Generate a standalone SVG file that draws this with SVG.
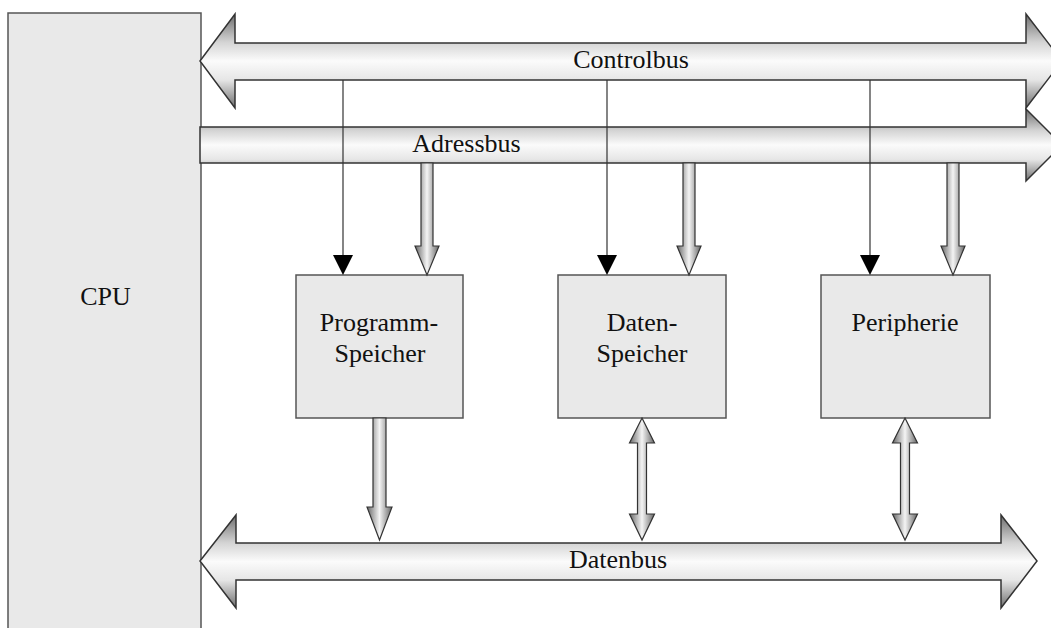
<svg xmlns="http://www.w3.org/2000/svg" width="1051" height="628" viewBox="0 0 1051 628">
  <style>
    .box { fill: #e9e9e9; stroke: #555; stroke-width: 1.5; }
    .bus { fill: url(#busGrad); stroke: #333; stroke-width: 1.5; stroke-linejoin: miter; }
    .blk { fill: url(#blkGrad); stroke: #333; stroke-width: 1.2; }
    .ctl { stroke: #333; stroke-width: 1.2; fill: none; }
    .tri { fill: #000; }
    .lbl { font-family: "Liberation Serif", "Times New Roman", serif; font-size: 26px; fill: #111; text-anchor: middle; }
  </style>
  <defs>
    <!-- bus arrows: shaded darker towards the head tips, bright along the centre -->
    <linearGradient id="busGrad" x1="0" y1="0" x2="0" y2="1">
      <stop offset="0" stop-color="#6e6e6e"/>
      <stop offset="0.3" stop-color="#d4d4d4"/>
      <stop offset="0.5" stop-color="#fbfbfb"/>
      <stop offset="0.7" stop-color="#e6e6e6"/>
      <stop offset="1" stop-color="#6e6e6e"/>
    </linearGradient>
    <!-- vertical block arrows: shaded across their width -->
    <linearGradient id="blkGrad" x1="0" y1="0" x2="1" y2="0">
      <stop offset="0" stop-color="#666"/>
      <stop offset="0.5" stop-color="#f4f4f4"/>
      <stop offset="1" stop-color="#666"/>
    </linearGradient>
  </defs>

  <rect width="1051" height="628" fill="#fff"/>

  <!-- CPU -->
  <g id="cpu">
    <rect class="box" x="8" y="13" width="193" height="640"/>
    <text class="lbl" x="105.5" y="305">CPU</text>
  </g>

  <!-- buses -->
  <g id="buses">
    <g id="controlbus">
      <path class="bus" d="M200,61 L235,14 L235,43 L1026,43 L1026,14 L1062,61 L1026,108 L1026,80 L235,80 L235,108 Z"/>
      <text class="lbl" x="631" y="68">Controlbus</text>
    </g>
    <g id="adressbus">
      <path class="bus" d="M200,127 L1026,127 L1026,109 L1062,145 L1026,181 L1026,163 L200,163 Z"/>
      <text class="lbl" x="466.5" y="152">Adressbus</text>
    </g>
    <g id="datenbus">
      <path class="bus" d="M200,561 L236,515 L236,543 L1001,543 L1001,515 L1037,561 L1001,608 L1001,580 L236,580 L236,608 Z"/>
      <text class="lbl" x="618" y="568">Datenbus</text>
    </g>
  </g>

  <!-- memory and peripheral blocks -->
  <g id="programm-speicher">
    <rect class="box" x="296" y="275" width="167" height="143"/>
    <text class="lbl" x="379" y="331">Programm-</text>
    <text class="lbl" x="380" y="362">Speicher</text>
  </g>
  <g id="daten-speicher">
    <rect class="box" x="558" y="275" width="168" height="143"/>
    <text class="lbl" x="642" y="331">Daten-</text>
    <text class="lbl" x="642" y="362">Speicher</text>
  </g>
  <g id="peripherie">
    <rect class="box" x="821" y="275" width="169" height="143"/>
    <text class="lbl" x="905" y="331">Peripherie</text>
  </g>

  <!-- connectors -->
  <g id="connectors">
    <!-- control lines -->
    <line class="ctl" x1="343" y1="80" x2="343" y2="256"/>
    <polygon class="tri" points="333,255 353,255 343,275"/>
    <line class="ctl" x1="607" y1="80" x2="607" y2="256"/>
    <polygon class="tri" points="597,255 617,255 607,275"/>
    <line class="ctl" x1="870" y1="80" x2="870" y2="256"/>
    <polygon class="tri" points="860,255 880,255 870,275"/>

    <!-- address lines -->
    <path class="blk" d="M421,163 L433,163 L433,246 L439,246 L427,275 L415,246 L421,246 Z"/>
    <path class="blk" d="M683,163 L695,163 L695,246 L701,246 L689,275 L677,246 L683,246 Z"/>
    <path class="blk" d="M947,163 L959,163 L959,246 L965,246 L953,275 L941,246 L947,246 Z"/>

    <!-- data lines -->
    <path class="blk" d="M373,418 L386,418 L386,507 L392,507 L379.5,540 L367,507 L373,507 Z"/>
    <path class="blk" d="M642,418 L654.5,443 L646.5,443 L646.5,514 L654.5,514 L642,540 L629.5,514 L637.5,514 L637.5,443 L629.5,443 Z"/>
    <path class="blk" d="M905,418 L917.5,443 L909.5,443 L909.5,514 L917.5,514 L905,540 L892.5,514 L900.5,514 L900.5,443 L892.5,443 Z"/>
  </g>
</svg>
